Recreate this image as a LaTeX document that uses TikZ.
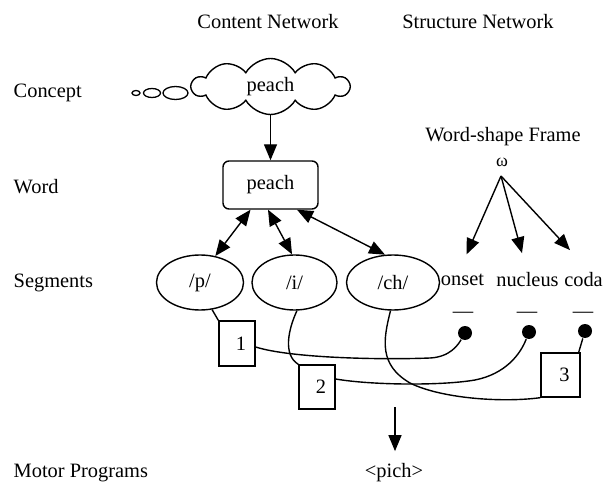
\documentclass[tikz,border=0pt]{standalone}
\usepackage{fontspec}
\setmainfont{Liberation Serif}
\usetikzlibrary{shapes.geometric,shapes.symbols,arrows.meta,calc}
\begin{document}
\begin{tikzpicture}[x=1pt,y=-1pt,
  font=\fontsize{20.4}{24}\selectfont,
  line width=1.4pt,
  >={Triangle[length=16pt,width=13pt]},
  lbl/.style={inner sep=0pt, anchor=west},
  segell/.style={ellipse, draw, inner sep=0pt, minimum height=55pt},
  numbox/.style={draw, rectangle, inner sep=0pt, minimum width=36pt, minimum height=44pt},
  sdot/.style={circle, fill, inner sep=0pt, minimum size=14pt},
  bubble/.style={ellipse, draw, inner sep=0pt, line width=1.3pt},
  plain/.style={inner sep=0pt}]
\useasboundingbox (0,0) rectangle (611,484);

% titles and row labels
\node[plain] (title1) at (268,22) {Content Network};
\node[plain] (title2) at (478,22) {Structure Network};
\node[lbl] (lconcept) at (13,93) {Concept};
\node[lbl] (lword) at (13,187) {Word};
\node[lbl] (lseg) at (13,283) {Segments};
\node[plain, anchor=base west] (lmotor) at (13,477.5) {Motor Programs};

% concept cloud with thought bubbles
\node[cloud, draw, cloud puffs=10, cloud puff arc=120, cloud ignores aspect,
      minimum width=157pt, minimum height=56pt, inner sep=0pt] (concept) at (270.5,86.5) {peach};
\node[bubble, minimum width=8pt, minimum height=5pt] (b1) at (136,93) {};
\node[bubble, minimum width=17pt, minimum height=9pt] (b2) at (152,93) {};
\node[bubble, minimum width=25pt, minimum height=13pt] (b3) at (175.5,93) {};

% word
\node[draw, rounded corners=6pt, minimum width=95pt, minimum height=48pt] (word) at (270.5,185) {peach};

% segments
\node[segell, minimum width=87pt] (p) at (200,282.5) {/p/};
\node[segell, minimum width=85pt] (i) at (294.5,282.5) {/i/};
\node[segell, minimum width=93pt] (ch) at (393,282.5) {/ch/};

% structure network
\node[plain] (frame) at (503,137) {Word-shape Frame};
\node[plain, font=\fontsize{18}{20}\selectfont] (omega) at (502,162) {ω};
\node[plain] (onset) at (462.5,280) {onset};
\node[plain] (nucleus) at (527.5,280) {nucleus};
\node[plain] (coda) at (583.5,280) {coda};
\node[plain, anchor=base] (d1) at (463,317) {—};
\node[plain, anchor=base] (d2) at (527,317) {—};
\node[plain, anchor=base] (d3) at (583,317) {—};
\node[sdot] (s1) at (465,333) {};
\node[sdot] (s2) at (529,332) {};
\node[sdot] (s3) at (585,331) {};

% numbered boxes
\node[numbox, minimum height=45pt] (n1) at (237,343.5) {\kern8pt 1};
\node[numbox] (n2) at (317,387) {\kern8pt 2};
\node[numbox, minimum width=39pt] (n3) at (560.5,375) {\kern8pt 3};

% motor program
\coordinate (mtop) at (395,407);
\node[plain, anchor=base] (pich) at (394,477.5) {<pich>};

% connectors
\draw[->] (concept.south) -- (word.north);
\draw[<->] ($(word.south)+(-20,0)$) -- (p.60);
\draw[<->] ($(word.south)+(-2.5,0)$) -- (i.95);
\draw[<->] ($(word.south)+(26.5,0)$) -- (ch.106);

\draw[->] ($(omega.south)+(-1,9)$) -- ($(onset.north)+(4,-19)$);
\draw[->] ($(omega.south)+(-1,9)$) -- ($(nucleus.north)+(-5.5,-19)$);
\draw[->] ($(omega.south)+(-1,9)$) -- ($(coda.north)+(-13.5,-22)$);

\draw (p.-66) -- (n1.north west);
\draw (i.-85) .. controls (288,330) and (283,355) .. (n2.north west);
\draw (ch.-95) .. controls (383,340) and (379,365) .. (410,383)
      .. controls (440,398) and (500,403) .. (n3.south west);
\draw ($(n1.east)+(0,3.5)$) .. controls (290,358) and (380,360) .. (430,358)
      .. controls (450,357) and (458,345) .. (s1);
\draw ($(n2.east)+(0,-8)$) .. controls (370,385) and (440,386) .. (475,380)
      .. controls (505,374) and (520,355) .. (s2);
\draw (s3) -- ($(n3.north east)+(-2,0)$);

\draw[->] (mtop) -- ($(pich.north)+(1,-11.5)$);
\end{tikzpicture}
\end{document}
